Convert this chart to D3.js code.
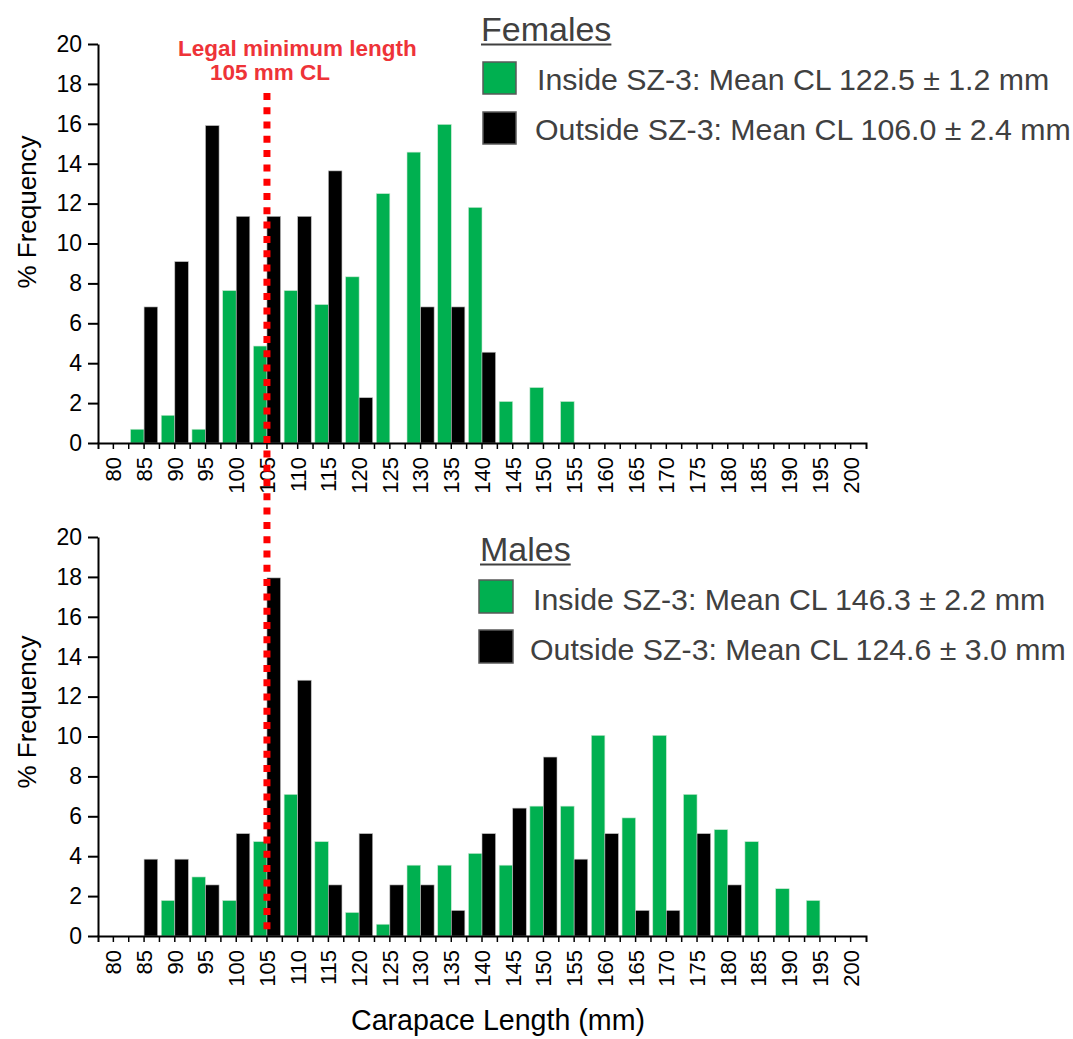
<!DOCTYPE html>
<html><head><meta charset="utf-8">
<script src="https://cdn.jsdelivr.net/npm/d3@7"></script>
<style>
html,body{margin:0;padding:0;background:#fff;}
text{font-family:"Liberation Sans",Arial,sans-serif;}
</style></head>
<body>
<svg id="chart" width="1073" height="1039"></svg>
<script>
const categories = ["80","85","90","95","100","105","110","115","120","125","130","135","140","145","150","155","160","165","170","175","180","185","190","195","200"];
const yTicks = [0,2,4,6,8,10,12,14,16,18,20];
const femInside  = [0,0.69,1.39,0.69,7.64,4.86,7.64,6.94,8.33,12.5,14.58,15.97,11.81,2.08,2.78,2.08,0,0,0,0,0,0,0,0,0];
const femOutside = [0,6.82,9.09,15.91,11.36,11.36,11.36,13.64,2.27,0,6.82,6.82,4.55,0,0,0,0,0,0,0,0,0,0,0,0];
const maleInside  = [0,0,1.78,2.96,1.78,4.73,7.1,4.73,1.18,0.59,3.55,3.55,4.14,3.55,6.51,6.51,10.06,5.92,10.06,7.1,5.33,4.73,2.37,1.78,0];
const maleOutside = [0,3.85,3.85,2.56,5.13,17.95,12.82,2.56,5.13,2.56,2.56,1.28,5.13,6.41,8.97,3.85,5.13,1.28,1.28,5.13,2.56,0,0,0,0];
const legalMin = "105";
const femLegend = ["Inside SZ-3: Mean CL 122.5 \u00b1 1.2 mm","Outside SZ-3: Mean CL 106.0 \u00b1 2.4 mm"];
const maleLegend = ["Inside SZ-3: Mean CL 146.3 \u00b1 2.2 mm","Outside SZ-3: Mean CL 124.6 \u00b1 3.0 mm"];

const GREEN = "#00b050", BLACK = "#000000", GREY = "#404040", RED = "#ff0000";
const FONT = '"Liberation Sans",Arial,sans-serif';
const svg = d3.select("#chart");
const x = d3.scaleBand().domain(categories).range([98, 866]).padding(0);
const bw = x.bandwidth();
const pad = 1.8;
const barW = (bw - 2*pad)/2;

const panels = [
  {title:"Females", inside:femInside, outside:femOutside, legend:femLegend, yr:[443,44], labY:212,
   tx:481, ty:41, sqx:483, sq1:62, sqw:33, sqh:32, lx:[537,535], ly:[90,140]},
  {title:"Males", inside:maleInside, outside:maleOutside, legend:maleLegend, yr:[936,537], labY:712,
   tx:480, ty:561, sqx:479, sq1:580, sqw:34, sqh:33, lx:[533,530], ly:[610,660]}
];
const yScales = [];
panels.forEach((p) => {
  const y = d3.scaleLinear().domain([0,20]).range(p.yr);
  yScales.push(y);
  const g = svg.append("g");
  g.selectAll("rect.in").data(p.inside).join("rect")
    .attr("x",(d,i)=>x(categories[i])+pad).attr("width",barW)
    .attr("y",d=>y(d)).attr("height",d=>y(0)-y(d))
    .attr("fill",GREEN).attr("stroke",d=>d>0?"#c8e8d2":"none").attr("stroke-width",0.6);
  g.selectAll("rect.out").data(p.outside).join("rect")
    .attr("x",(d,i)=>x(categories[i])+pad+barW).attr("width",barW)
    .attr("y",d=>y(d)).attr("height",d=>y(0)-y(d))
    .attr("fill",BLACK).attr("stroke",d=>d>0?"#bdbdbd":"none").attr("stroke-width",0.6);
  const ya = g.append("g").attr("transform",`translate(${x.range()[0]},0)`)
    .call(d3.axisLeft(y).tickValues(yTicks).tickSize(10).tickSizeOuter(0).tickPadding(6));
  ya.attr("font-size",null).attr("font-family",null);
  ya.select(".domain").attr("stroke","#000").attr("stroke-width",2);
  ya.selectAll(".tick line").attr("stroke","#000").attr("stroke-width",2);
  ya.selectAll(".tick text").style("font-size","23px").attr("fill","#000").style("font-family",FONT);
  const xa = g.append("g").attr("transform",`translate(0,${y(0)})`)
    .call(d3.axisBottom(x).tickSize(6).tickSizeOuter(6));
  xa.attr("font-size",null).attr("font-family",null);
  xa.select(".domain").attr("stroke","#000").attr("stroke-width",2);
  xa.selectAll(".tick line").attr("stroke","#000").attr("stroke-width",1.5);
  xa.selectAll(".tick text").style("font-size","22px").attr("fill","#000").style("font-family",FONT)
    .attr("transform","rotate(-90)").attr("x",-14).attr("y",0).attr("dy","0.36em")
    .attr("text-anchor","end");
  xa.selectAll("line.bnd").data(categories.slice(1)).join("line").attr("class","bnd")
    .attr("x1",d=>x(d)).attr("x2",d=>x(d)).attr("y1",0).attr("y2",6)
    .attr("stroke","#000").attr("stroke-width",1.5);
  g.append("text").attr("transform",`translate(36,${p.labY}) rotate(-90)`)
    .attr("text-anchor","middle").style("font-size","26px").attr("fill","#000").text("% Frequency");
  const tt = g.append("text").attr("x",p.tx).attr("y",p.ty).style("font-size","34px").attr("fill",GREY).text(p.title);
  const tw = tt.node().getComputedTextLength();
  g.append("line").attr("x1",p.tx).attr("x2",p.tx+tw).attr("y1",p.ty+3.5).attr("y2",p.ty+3.5)
    .attr("stroke",GREY).attr("stroke-width",2);
  [GREEN,BLACK].forEach((c,k)=>{
    g.append("rect").attr("x",p.sqx).attr("y",p.sq1+k*50).attr("width",p.sqw).attr("height",p.sqh)
      .attr("fill",c).attr("stroke","#595959").attr("stroke-width",1.5);
    g.append("text").attr("x",p.lx[k]).attr("y",p.ly[k]).style("font-size","30.3px").attr("fill",GREY).text(p.legend[k]);
  });
});

const lx = x(legalMin) + bw/2;
svg.append("line").attr("x1",lx).attr("x2",lx)
  .attr("y1",yScales[0](17.55)).attr("y2",yScales[1](0)-6)
  .attr("stroke",RED).attr("stroke-width",7).attr("stroke-dasharray","7 7.3");
svg.append("text").attr("x",178).attr("y",56).style("font-size","22.5px").attr("font-weight","bold")
  .attr("fill","#ee3338").text("Legal minimum length");
svg.append("text").attr("x",210).attr("y",80).style("font-size","22.5px").attr("font-weight","bold")
  .attr("fill","#ee3338").text("105 mm CL");

svg.append("text").attr("x",498).attr("y",1030).attr("text-anchor","middle").style("font-size","28.6px")
  .attr("fill","#000").text("Carapace Length (mm)");
</script>
</body></html>
